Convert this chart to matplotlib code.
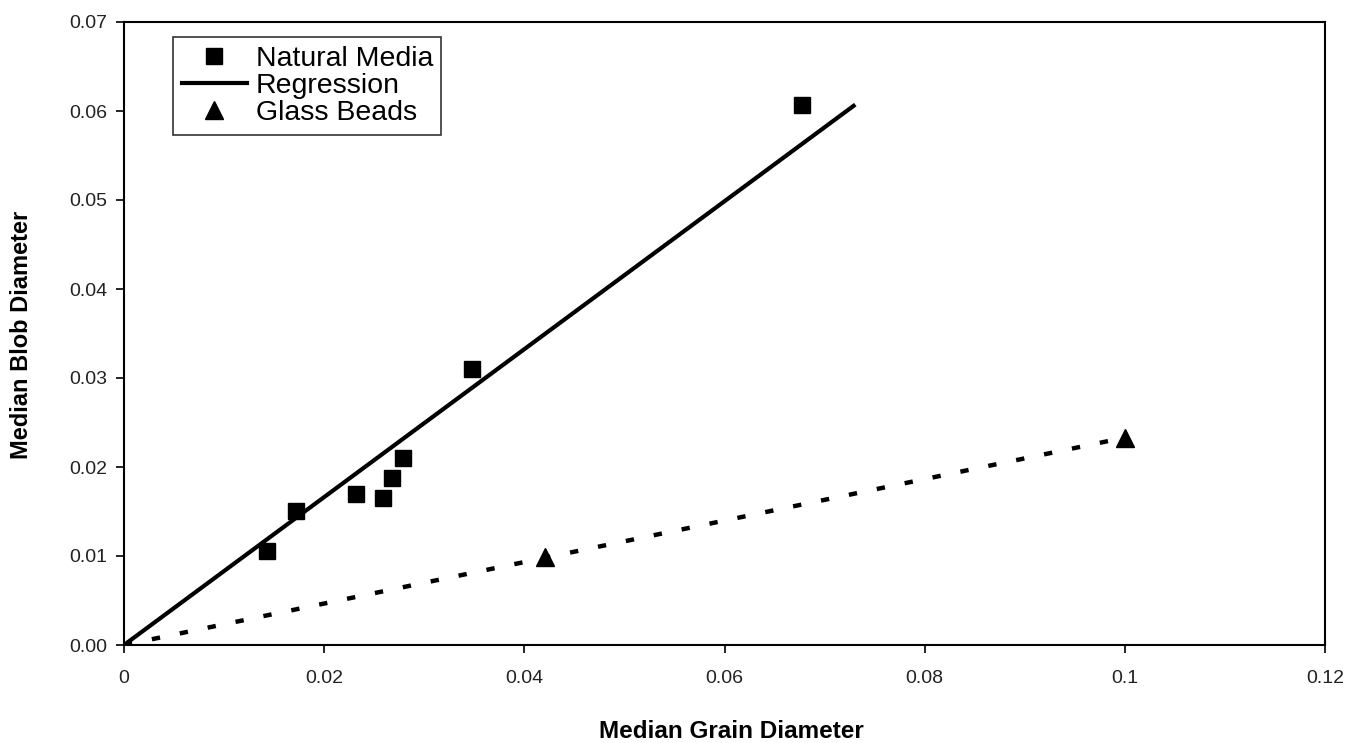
import matplotlib
matplotlib.use("Agg")
import matplotlib.pyplot as plt
import numpy as np

plt.rcParams['font.family'] = ['Liberation Sans', 'DejaVu Sans']
plt.rcParams['lines.scale_dashes'] = False

# Natural media data
natural_x = [0.0143, 0.0172, 0.0232, 0.0259, 0.0268, 0.0279, 0.0348, 0.0677]
natural_y = [0.0106, 0.0151, 0.0170, 0.0165, 0.0188, 0.0210, 0.0310, 0.0607]

# Regression line (natural media)
reg_x = [0.0, 0.0729]
reg_slope = 0.831

# Glass beads data
glass_x = [0.0421, 0.1000]
glass_y = [0.0099, 0.0233]
glass_fit_x = [0.0, 0.1000]
glass_slope = 0.233

x_ticks = [0, 0.02, 0.04, 0.06, 0.08, 0.1, 0.12]
x_tick_labels = ['0', '0.02', '0.04', '0.06', '0.08', '0.1', '0.12']
y_ticks = [0.00, 0.01, 0.02, 0.03, 0.04, 0.05, 0.06, 0.07]
y_tick_labels = ['0.00', '0.01', '0.02', '0.03', '0.04', '0.05', '0.06', '0.07']

fig = plt.figure(figsize=(13.46, 7.43), dpi=100)
ax = fig.add_axes([124/1346, 1 - 645/743, (1325-124)/1346, (645-22)/743])

reg_y = [reg_slope * v for v in reg_x]
glass_fit_y = [glass_slope * v for v in glass_fit_x]

ax.plot(glass_fit_x, glass_fit_y, color='black', lw=3.2, dashes=(6, 14.5),
        dash_capstyle='butt', zorder=2)
ax.plot(reg_x, reg_y, color='black', lw=3.0, label='Regression', zorder=3)
ax.plot(natural_x, natural_y, linestyle='none', marker='s', ms=11.5,
        color='black', label='Natural Media', zorder=4)
ax.plot(glass_x, glass_y, linestyle='none', marker='^', ms=13,
        color='black', label='Glass Beads', zorder=4)

ax.set_xlim(0, 0.12)
ax.set_ylim(0, 0.07)
ax.set_xticks(x_ticks)
ax.set_xticklabels(x_tick_labels)
ax.set_yticks(y_ticks)
ax.set_yticklabels(y_tick_labels)
ax.tick_params(direction='out', length=6, width=1.2, labelsize=14,
               labelcolor='#222222', pad=6)
for s in ax.spines.values():
    s.set_linewidth(1.5)
ax.tick_params(axis='x', pad=12)

ax.set_xlabel('Median Grain Diameter', fontsize=17.5, fontweight='bold')
ax.xaxis.set_label_coords((731-124)/1201, (645-731)/623)
ax.xaxis.label.set_va('center')
ax.set_ylabel('Median Blob Diameter', fontsize=17, fontweight='bold')
ax.yaxis.set_label_coords((21-124)/1201, (645-335)/623)
ax.yaxis.label.set_va('center')

handles, labels = ax.get_legend_handles_labels()
order = [labels.index('Natural Media'), labels.index('Regression'), labels.index('Glass Beads')]
leg = ax.legend([handles[i] for i in order], [labels[i] for i in order],
                loc='upper left', bbox_to_anchor=((173-124)/1201, (645-37)/623),
                borderaxespad=0, fontsize=20.5, frameon=True, fancybox=False,
                edgecolor='black', handlelength=2.3, handletextpad=0.3,
                labelspacing=0.05, borderpad=0.3, numpoints=1)
leg.get_frame().set_linewidth(1.2)

fig.savefig('out.png', dpi=100, facecolor='white')
